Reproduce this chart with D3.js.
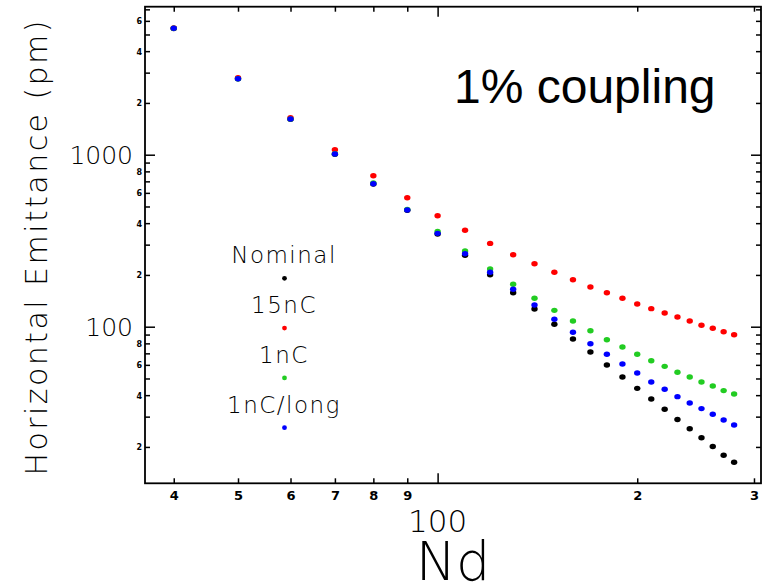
<!DOCTYPE html>
<html>
<head>
<meta charset="utf-8">
<script src="https://cdn.jsdelivr.net/npm/d3@7"></script>
<style>
  html, body { margin: 0; padding: 0; background: #fff; }
  svg { display: block; }
  .thin { font-family: "DejaVu Sans", sans-serif; font-weight: 200; fill: #000; }
  .tick-small { font-family: "DejaVu Sans", sans-serif; font-weight: bold; fill: #000; }
</style>
</head>
<body>
<svg id="chart" width="765" height="588"></svg>
<script>
// Number of cells (Nd) along the horizontal axis
const nd = [40, 50, 60, 70, 80, 90, 100, 110, 120, 130, 140, 150, 160,
            170, 180, 190, 200, 210, 220, 230, 240, 250, 260, 270, 280];

// Horizontal emittance (pm) for each configuration
const nominal = [5420, 2760, 1605, 1005, 675, 475, 346, 260, 200.6, 157.7, 126.7, 103.3, 84.8,
                 71.3, 59.9, 51.0, 43.8, 38.0, 33.1, 28.9, 25.5, 22.6, 20.1, 17.9, 16.3];
const q15nC = [5450, 2803, 1641, 1069, 755, 562, 442, 364, 305, 262.2, 232.5, 207.3, 187.6,
               170.2, 157.7, 146.3, 135.5, 127.3, 120.1, 113.9, 107.9, 101.9, 97.9, 93.5, 89.8];
const q1nC = [5432, 2767, 1613, 1012, 685, 481, 358, 275.5, 216.6, 176.4, 146.3, 124.5, 107.9,
              94.8, 84.0, 76.2, 69.1, 63.4, 58.8, 54.3, 51.0, 47.7, 45.2, 42.5, 40.6];
const q1nCLong = [5432, 2767, 1613, 1009, 678, 477, 349, 265.7, 207.3, 165, 133.7, 110.4, 92.8,
                  79.6, 69.1, 60.7, 53.8, 47.7, 43.3, 39.2, 36.0, 33.4, 31.0, 28.7, 26.8];

const seriesNames = ["Nominal", "15nC", "1nC", "1nC/long"];
const seriesColors = ["#000000", "#ff0000", "#22cc22", "#0000ff"];
const seriesValues = [nominal, q15nC, q1nC, q1nCLong];

// Axis ticks
const xTicks = [40, 50, 60, 70, 80, 90, 100, 200, 300];
const xTickLabels = ["4", "5", "6", "7", "8", "9", "", "2", "3"];
const xMajor = [100];
const yTicks = [20, 30, 40, 50, 60, 70, 80, 90, 100, 200, 300, 400, 500, 600, 700, 800, 900,
                1000, 2000, 3000, 4000, 5000, 6000, 7000];
const yMajor = [100, 1000];
const yTickLabels = { 20: "2", 40: "4", 60: "6", 80: "8", 100: "100", 200: "2", 400: "4",
                      600: "6", 800: "8", 1000: "1000", 2000: "2", 4000: "4", 6000: "6" };

const svg = d3.select("#chart");
const plotLeft = 145, plotRight = 761, plotTop = 6.7, plotBottom = 483.3;

const x = d3.scaleLog().domain([36.2, 307.4]).range([plotLeft, plotRight]);
const y = d3.scaleLog().domain([12.29, 7253]).range([plotBottom, plotTop]);

const minorLen = 5, majorLen = 10;

function styleAxis(g, majors, orient) {
  g.select(".domain").remove();
  g.selectAll(".tick line")
    .attr("stroke", "#000")
    .attr("stroke-width", 1.5)
    .each(function (d) {
      const len = majors.includes(d) ? majorLen : minorLen;
      const el = d3.select(this);
      if (orient === "bottom") el.attr("y2", -len);
      if (orient === "top") el.attr("y2", len);
      if (orient === "left") el.attr("x2", len);
      if (orient === "right") el.attr("x2", -len);
    });
}

// Bottom axis
const gx = svg.append("g").attr("transform", `translate(0,${plotBottom})`)
  .call(d3.axisBottom(x).tickValues(xTicks).tickSize(-minorLen).tickPadding(7)
        .tickFormat((d, i) => xTickLabels[i]));
styleAxis(gx, xMajor, "bottom");
gx.selectAll(".tick text").attr("class", "tick-small").attr("font-size", 13);

// Top axis
const gxt = svg.append("g").attr("transform", `translate(0,${plotTop})`)
  .call(d3.axisTop(x).tickValues(xTicks).tickSize(-minorLen).tickFormat(""));
styleAxis(gxt, xMajor, "top");

// Left axis
const gy = svg.append("g").attr("transform", `translate(${plotLeft},0)`)
  .call(d3.axisLeft(y).tickValues(yTicks).tickSize(-minorLen)
        .tickFormat(d => yTickLabels[d] || ""));
styleAxis(gy, yMajor, "left");
gy.selectAll(".tick text").each(function (d) {
  const t = d3.select(this);
  if (yMajor.includes(d)) {
    t.attr("class", "thin").attr("font-size", 25).attr("x", -12).attr("dy", "0.36em");
  } else {
    t.attr("class", "tick-small").attr("font-size", 8).attr("x", -3).attr("dy", "0.36em");
  }
});

// Right axis
const gyr = svg.append("g").attr("transform", `translate(${plotRight},0)`)
  .call(d3.axisRight(y).tickValues(yTicks).tickSize(-minorLen).tickFormat(""));
styleAxis(gyr, yMajor, "right");

// Frame
svg.append("rect")
  .attr("x", plotLeft).attr("y", plotTop)
  .attr("width", plotRight - plotLeft).attr("height", plotBottom - plotTop)
  .attr("fill", "none").attr("stroke", "#000").attr("stroke-width", 1.8);

// Decade label under the x axis and axis titles
svg.append("text").attr("class", "thin")
  .attr("x", x(100)).attr("y", 532).attr("text-anchor", "middle")
  .attr("font-size", 31).text("100");

svg.append("text").attr("class", "thin")
  .attr("x", 453).attr("y", 580).attr("text-anchor", "middle")
  .attr("font-size", 54).text("Nd");

svg.append("text").attr("class", "thin")
  .attr("transform", "translate(47,248) rotate(-90)")
  .attr("text-anchor", "middle").attr("font-size", 30)
  .attr("textLength", 455).attr("lengthAdjust", "spacing")
  .text("Horizontal Emittance (pm)");

// Points
const plot = svg.append("g");
seriesValues.forEach((vals, si) => {
  plot.append("g").selectAll("ellipse")
    .data(nd.map((n, i) => [n, vals[i]]))
    .join("ellipse")
    .attr("cx", d => x(d[0]))
    .attr("cy", d => y(d[1]))
    .attr("rx", 3.2).attr("ry", 2.7)
    .attr("fill", seriesColors[si]);
});

// Legend
const legend = svg.append("g");
seriesNames.forEach((name, i) => {
  const base = 263.3 + i * 49.8;
  legend.append("text").attr("class", "thin")
    .attr("x", 284).attr("y", base).attr("text-anchor", "middle")
    .attr("font-size", 23).attr("letter-spacing", 1.5).text(name);
  legend.append("circle")
    .attr("cx", 284.5).attr("cy", base + 15).attr("r", 2.4)
    .attr("fill", seriesColors[i]);
});

// Title
svg.append("text")
  .attr("x", 454).attr("y", 103)
  .attr("font-family", "'Liberation Sans', Arial, sans-serif")
  .attr("font-size", 48).attr("fill", "#000")
  .text("1% coupling");
</script>
</body>
</html>
